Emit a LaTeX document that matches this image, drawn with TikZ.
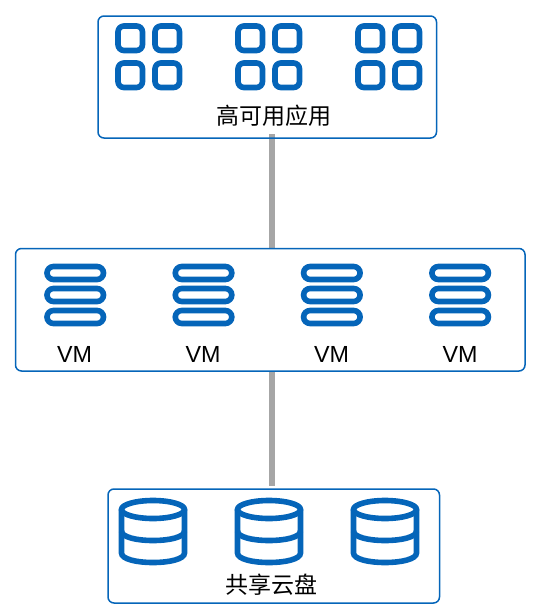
\documentclass[tikz,border=0pt]{standalone}
\usepackage{fontspec}
\setmainfont{Liberation Sans}
\newfontfamily\cjk{Noto Sans CJK SC}
\definecolor{blueline}{HTML}{0565B9}
\definecolor{greyline}{HTML}{A6A6A6}
\tikzset{
  panel/.style={draw=blueline,line width=1.5pt,rounded corners=6pt,inner sep=0pt,minimum width=#1},
  icon/.style={draw=blueline,line width=5.6pt},
  link/.style={draw=greyline,line width=6.5pt},
  cjklabel/.style={font=\cjk\fontsize{23}{23}\selectfont,text=black,inner sep=0pt},
  vmlabel/.style={font=\fontsize{23.3}{23.3}\selectfont,text=black,inner sep=0pt}
}
\begin{document}
\begin{tikzpicture}[x=1pt,y=-1pt]
\useasboundingbox (0,0) rectangle (540,616);
% connector ends, drawn beneath the panel borders
\coordinate (appfoot) at (272,134);
\coordinate (vmtop) at (272,248);
\coordinate (vmfoot) at (272,371);
\coordinate (disktop) at (272,486);
\draw[link] (appfoot) -- (vmtop);
\draw[link] (vmfoot) -- (disktop);
% panels
\node[panel=338.5pt,minimum height=122pt] (app) at (267.25,77) {};
\node[panel=509.5pt,minimum height=122.5pt] (vm) at (270.25,309.75) {};
\node[panel=331.5pt,minimum height=114pt] (disk) at (273.75,546) {};
% application icons
\foreach \dx in {0,120,240}{
  \foreach \px/\py in {118/26,155/26,118/63,155/63}{
    \draw[icon,rounded corners=6pt] (\px+\dx,\py) rectangle ++(24.5,24.5);
  }
}
% VM icons
\foreach \dx in {0,128.3,256.6,384.9}{
  \foreach \py in {266.5,288.5,310.5}{
    \draw[icon,rounded corners=6.5pt] (47+\dx,\py) rectangle ++(56.5,13);
  }
}
% disk icons
\foreach \cx in {153,269,385}{
  \draw[icon] (\cx,509.5) ellipse [x radius=31.5,y radius=9];
  \draw[icon] (\cx-31.5,509.5) -- (\cx-31.5,553) .. controls (\cx-31.5,559) and (\cx-17,562.5) .. (\cx,562.5) .. controls (\cx+17,562.5) and (\cx+31.5,559) .. (\cx+31.5,553) -- (\cx+31.5,509.5);
  \draw[icon] (\cx-31.5,531) .. controls (\cx-31.5,537) and (\cx-17,540.5) .. (\cx,540.5) .. controls (\cx+17,540.5) and (\cx+31.5,537) .. (\cx+31.5,531);
}
% labels
\node[cjklabel] (apptext) at (273.5,115.5) {高可用应用};
\node[cjklabel] (disktext) at (271.5,585) {共享云盘};
\node[vmlabel] (vm1) at (74.5,354.5) {VM};
\node[vmlabel] (vm2) at (203,354.5) {VM};
\node[vmlabel] (vm3) at (331.5,354.5) {VM};
\node[vmlabel] (vm4) at (460,354.5) {VM};
\end{tikzpicture}
\end{document}
